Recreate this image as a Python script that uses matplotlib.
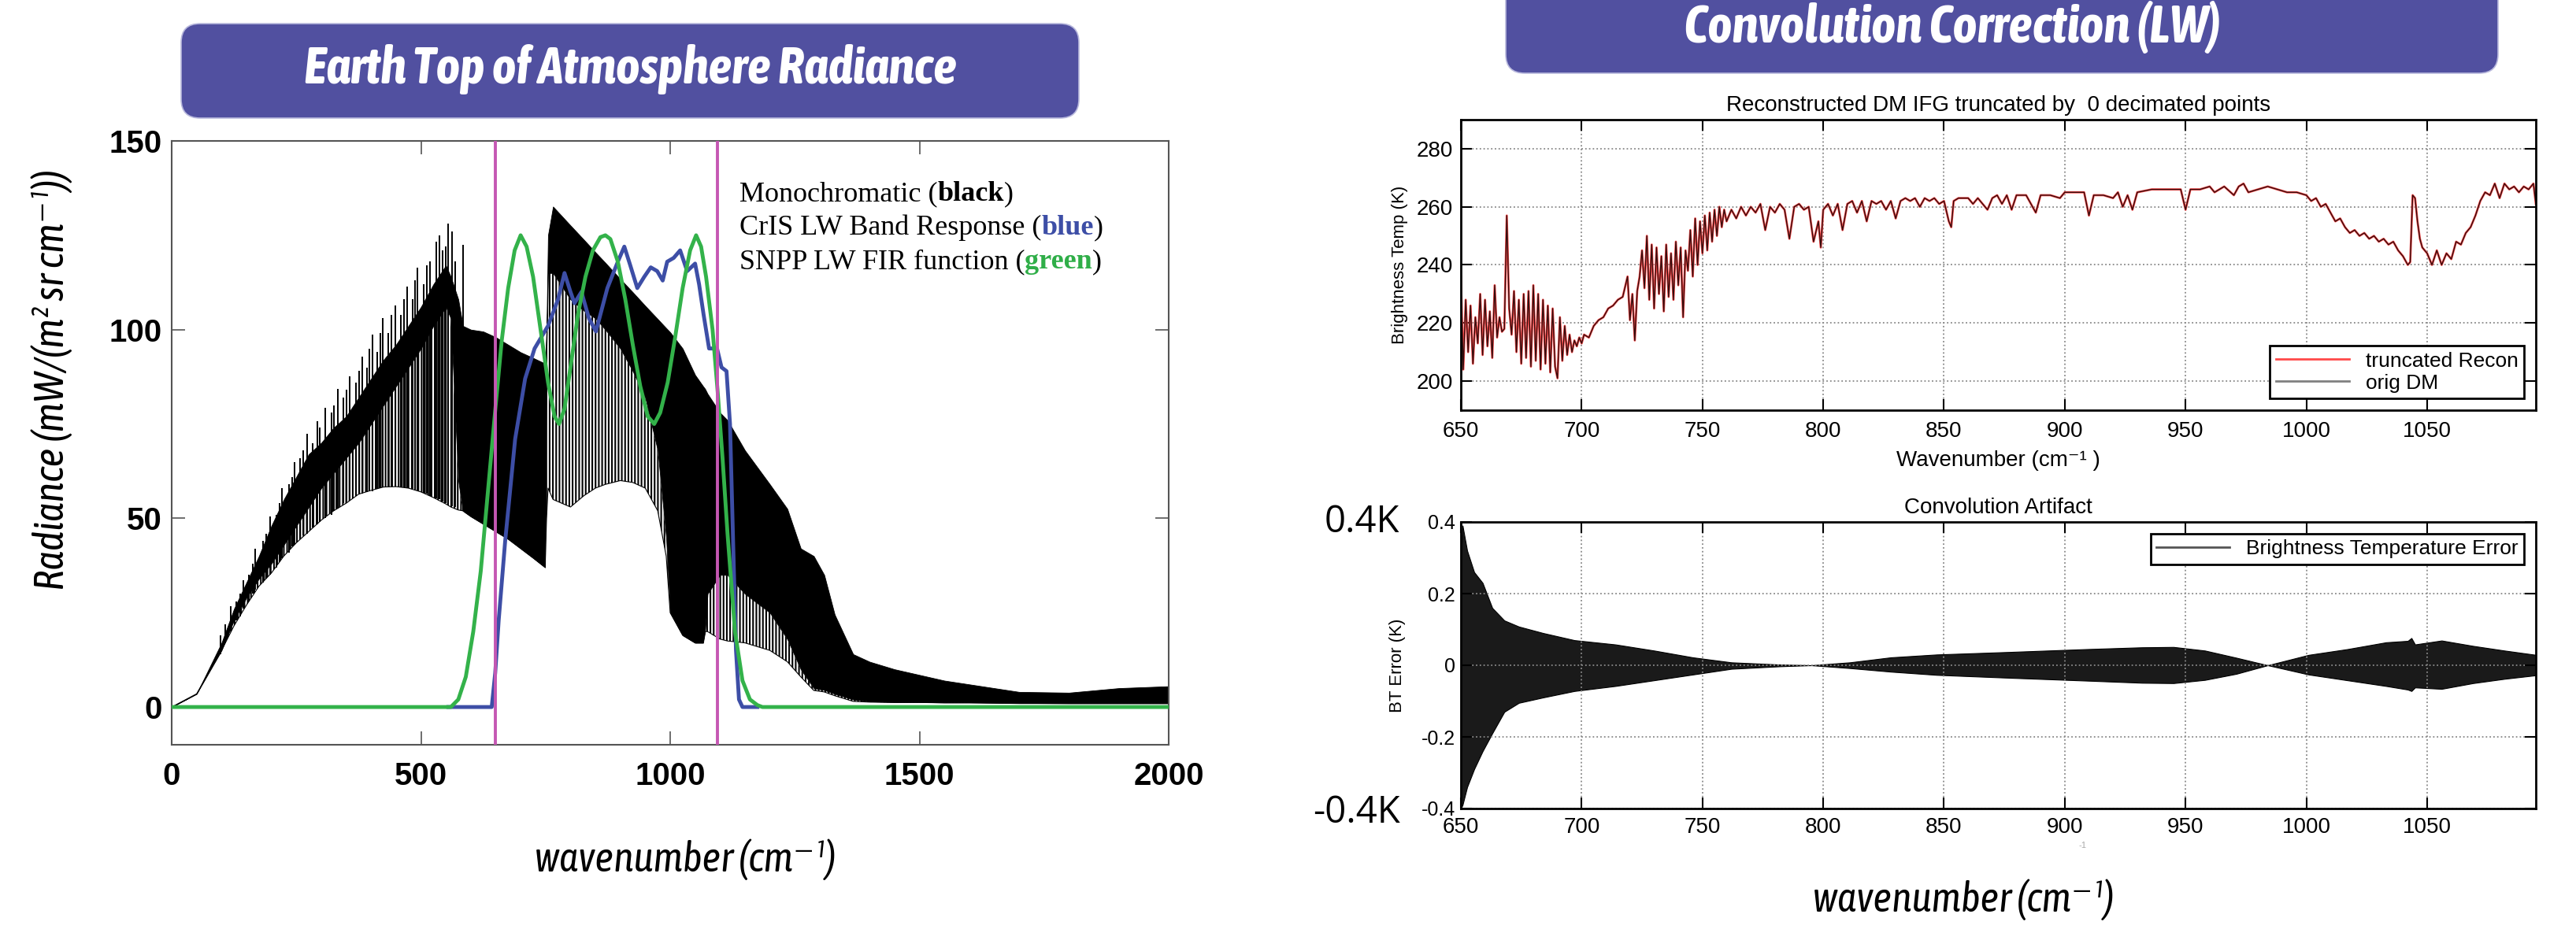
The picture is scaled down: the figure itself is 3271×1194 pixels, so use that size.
import matplotlib
matplotlib.use('Agg')
import matplotlib.pyplot as plt
from matplotlib.patches import FancyBboxPatch

plt.rcParams['font.family'] = ['Liberation Sans', 'DejaVu Sans']
plt.rcParams['hatch.color'] = 'black'
plt.rcParams['hatch.linewidth'] = 1.5

# ---- left panel: monochromatic TOA radiance (envelopes)
mono_wn = [0, 50, 100, 125, 150, 175, 200, 225, 250, 275,
           300, 325, 350, 375, 400, 425, 450, 475, 500, 525,
           550, 560, 575, 584, 600, 625, 650, 675, 700, 725,
           749, 752, 755, 765, 800, 827, 850, 870, 900, 925,
           950, 975, 992, 1000, 1025, 1050, 1066, 1070, 1075, 1100,
           1115, 1150, 1200, 1235, 1262, 1288, 1309, 1330, 1367, 1400,
           1450, 1500, 1550, 1600, 1700, 1800, 1900, 2000]
mono_top = [0, 3.5, 17, 26, 33, 40, 48, 55, 61, 67,
            70, 74, 77, 82, 87, 92, 96, 101, 106, 112,
            117, 114, 108, 101, 100, 99.5, 98, 96, 94, 92.5,
            91, 100, 125, 132.6, 127.6, 123.8, 120.5, 117.7, 113.4, 109.9,
            106.3, 102.8, 100.4, 99.3, 95, 88, 85, 84.3, 83, 78,
            76, 68, 59, 52.5, 42, 40, 35, 24.5, 14, 12,
            10, 8.5, 7, 6, 4, 3.8, 5, 5.5]
mono_mid = [0, 3.5, 15, 23, 29, 34, 38, 43, 48, 53,
            58, 62, 66, 70, 75, 80, 85, 90, 95, 101,
            106, 103, 60, 52, 50.5, 48.5, 46.5, 44.5, 42, 39.5,
            37, 95, 115, 115, 108, 105, 103, 100, 95, 89,
            82, 68, 45, 25, 19, 17, 17, 20, 30, 35,
            35, 30, 25, 18, 10, 5, 4.5, 3.5, 2, 1.5,
            1.3, 1.3, 1.2, 1.2, 1, 1, 1, 1]
mono_lo = [0, 3.5, 15, 21.5, 27, 32, 35.5, 40, 43.5, 46.5,
           49.5, 52, 54, 56.4, 57.4, 58.3, 58.4, 58, 57, 55.5,
           53.8, 53, 52.2, 52, 50.5, 48.5, 46.5, 44.5, 42, 39.5,
           37, 50, 58, 55, 53, 56, 58, 59, 60, 59.5,
           58, 52, 40, 25, 19, 17, 17, 20, 20, 18,
           17.5, 17, 15, 12, 8, 4.4, 4, 3, 1.5, 1.3,
           1.2, 1.2, 1.1, 1.1, 1, 0.9, 0.9, 0.9]

# individual tall lines poking out of the dense band
spike_wn = [98, 118.5, 130, 143, 155, 168, 183, 197, 210, 221.5,
            235, 246, 258, 271, 282, 291.5, 308, 320, 333, 345,
            357.5, 370, 382, 392, 403, 413, 423, 435, 448, 460,
            473, 483, 493, 505, 518, 530.5, 543, 555, 568, 584,
            108, 137, 162, 190, 216, 241, 264, 297, 326, 351,
            376, 397, 418, 441, 466, 488, 512, 537, 549, 562]
spike_top = [19, 26.7, 28, 33.5, 35, 42, 44, 50.4, 51, 58,
             59, 64.8, 66, 72.5, 70, 75.8, 79.2, 78, 84.3, 82,
             87.7, 86, 92.8, 90, 98.7, 94, 103, 99, 106.4, 104,
             111.4, 108, 116.5, 112, 118, 123.3, 121, 128, 118, 122.5,
             22, 30, 38, 46, 54, 61, 68, 74, 80, 84,
             89, 95, 99, 104, 108, 113, 117, 125, 122, 126]
spike_bot = [14, 20, 23, 26, 28, 31, 33, 35, 37, 39.5,
             41, 43, 44.5, 46, 47.5, 48.5, 50, 51, 52.5, 54,
             55, 56, 56.5, 57, 57.2, 57.8, 58.2, 58.3, 58.4, 58.3,
             58, 57.8, 57.3, 56.8, 56, 55.3, 54.5, 53.5, 53, 52,
             17, 24, 30, 34, 38.5, 42.5, 45.5, 49, 52, 54.5,
             56.4, 57.2, 58, 58.4, 58.2, 57.5, 56.5, 55, 54, 53.2]

blue_wn = [555, 642, 649, 656, 669, 689, 709, 728, 755, 775,
           788, 800, 808, 822, 837, 851, 874, 895, 908, 920,
           934, 948, 961, 974, 985, 994, 1007, 1020, 1034, 1050,
           1058, 1067, 1078, 1094, 1103, 1113, 1120, 1126, 1132, 1138,
           1145, 1175]
blue_val = [0, 0, 9, 23, 44, 71, 87, 95, 101, 108,
            115, 110, 107, 110, 103, 99.5, 111, 118, 122, 117,
            111, 114, 116.5, 115.5, 113, 118, 119, 121, 115.5, 117.5,
            112, 104, 95, 95, 90, 89, 75, 45, 15, 2,
            0, 0]

green_wn = [0, 560, 575, 590, 605, 620, 635, 650, 662, 675,
            688, 700, 712, 725, 740, 755, 768, 777, 788, 800,
            815, 830, 845, 860, 870, 880, 895, 910, 925, 940,
            955, 968, 980, 995, 1010, 1025, 1040, 1052, 1062, 1072,
            1085, 1095, 1105, 1115, 1130, 1145, 1160, 1175, 1185, 2000]
green_val = [0, 0, 2, 8, 20, 36, 58, 80, 97, 111,
             121, 125, 122, 114, 100, 86, 77, 75, 79, 90,
             104, 114, 121, 124.5, 125, 124, 118, 108, 96, 85,
             77, 75, 78, 86, 98, 111, 121, 125, 122, 114,
             100, 84, 66, 46, 20, 7, 2, 0.5, 0, 0]

band_edges = [650, 1095]

# ---- right top: brightness temperature spectrum
bt_wn = ([650, 651, 652, 653, 654, 655, 656, 657, 658, 659]
         + [660, 661, 662, 663, 664, 665, 666, 667, 668, 669]
         + [670, 671, 672, 673, 674, 675, 676, 677, 678, 679]
         + [680, 681, 682, 683, 684, 685, 686, 687, 688, 689]
         + [690, 691, 692, 693, 694, 695, 696, 697, 698, 699]
         + [700, 701, 703, 705, 707, 709, 711, 713, 715, 717]
         + [719, 720, 721, 722, 723, 724, 725, 726, 727, 728]
         + [729, 730, 731, 732, 733, 734, 735, 736, 737, 738]
         + [739, 740, 741, 742, 743, 744, 745, 746, 747, 748]
         + [749, 750, 751, 752, 753, 754, 755, 756, 757, 758]
         + [759, 760, 762, 764, 766, 768, 770, 772, 774, 776]
         + [778, 780, 782, 784, 786, 788, 790, 792, 794, 796]
         + [798, 799, 800, 802, 804, 806, 808, 810, 812, 814]
         + [816, 818, 820, 822, 824, 826, 828, 830, 832, 834]
         + [836, 838, 840, 842, 844, 846, 848, 850, 852, 853]
         + [854, 856, 860, 862, 864, 868, 870, 872, 874, 876]
         + [878, 880, 884, 886, 888, 890, 894, 898, 900, 904]
         + [908, 910, 912, 916, 920, 922, 924, 926, 928, 930]
         + [936, 940, 944, 948, 950, 952, 956, 960, 962, 966]
         + [970, 972, 974, 976, 980, 984, 988, 992, 996, 1000]
         + [1002, 1004, 1006, 1008, 1010, 1012, 1014, 1016, 1018, 1020]
         + [1022, 1024, 1026, 1028, 1030, 1032, 1034, 1036, 1038, 1040]
         + [1042, 1043, 1044, 1045, 1046, 1047, 1048, 1050, 1052, 1054]
         + [1056, 1058, 1060, 1062, 1064, 1066, 1068, 1070, 1072, 1074]
         + [1076, 1078, 1080, 1082, 1084, 1086, 1088, 1090, 1092, 1094]
         + [1095])
bt_temp = ([236, 204, 228, 210, 226, 206, 222, 213, 230, 209]
           + [228, 212, 224, 208, 233, 215, 222, 217, 218, 257]
           + [225, 216, 231, 210, 228, 206, 230, 208, 231, 205]
           + [233, 207, 230, 204, 228, 206, 226, 203, 225, 205]
           + [201, 222, 207, 219, 209, 216, 210, 214, 212, 215]
           + [213, 216, 215, 219, 221, 222, 225, 226, 228, 229]
           + [236, 221, 230, 214, 231, 236, 245, 232, 250, 228]
           + [247, 225, 246, 230, 243, 224, 247, 229, 244, 228]
           + [248, 233, 246, 222, 245, 238, 252, 236, 256, 240]
           + [255, 244, 257, 245, 258, 248, 259, 250, 260, 253]
           + [259, 255, 259, 256, 260, 257, 260, 258, 261, 252]
           + [260, 258, 261, 259, 249, 260, 261, 259, 260, 248]
           + [255, 246, 259, 261, 257, 261, 252, 261, 262, 258]
           + [262, 255, 262, 261, 262, 259, 262, 256, 262, 263]
           + [262, 263, 260, 263, 262, 263, 261, 262, 255, 253]
           + [262, 263, 263, 261, 263, 259, 263, 264, 261, 264]
           + [259, 264, 264, 261, 258, 264, 264, 263, 265, 265]
           + [265, 257, 264, 264, 263, 265, 260, 264, 259, 265]
           + [266, 266, 266, 266, 259, 266, 266, 267, 265, 267]
           + [264, 267, 268, 265, 266, 267, 266, 265, 265, 264]
           + [262, 263, 260, 261, 258, 255, 256, 253, 251, 252]
           + [250, 251, 249, 250, 248, 249, 247, 248, 245, 243]
           + [240, 241, 264, 263, 255, 249, 246, 244, 240, 245]
           + [240, 244, 242, 248, 247, 251, 253, 257, 262, 265]
           + [264, 268, 263, 268, 266, 267, 265, 267, 266, 268]
           + [261])

# ---- right bottom: convolution artifact envelope
err_wn = [650, 650.7, 652.6, 655.5, 659, 663, 668, 674, 684, 697,
          714, 730, 746, 762, 782, 795, 811, 828, 847, 877,
          909, 932, 945, 958, 971, 984, 1001, 1017, 1033, 1042,
          1043.5, 1045, 1056, 1069, 1082, 1095]
err_hi = [0.30, 0.39, 0.32, 0.26, 0.23, 0.16, 0.125, 0.108, 0.09, 0.07,
          0.058, 0.041, 0.022, 0.008, 0.002, 0.0, 0.008, 0.022, 0.030, 0.037,
          0.045, 0.050, 0.051, 0.041, 0.021, 0.0, 0.029, 0.045, 0.064, 0.068,
          0.076, 0.058, 0.069, 0.054, 0.041, 0.029]
err_lo = [-0.40, -0.39, -0.34, -0.29, -0.24, -0.19, -0.13, -0.105, -0.09, -0.072,
          -0.058, -0.042, -0.026, -0.010, -0.003, 0.0, -0.008, -0.018, -0.027, -0.035,
          -0.043, -0.049, -0.050, -0.041, -0.024, 0.0, -0.026, -0.042, -0.058, -0.068,
          -0.072, -0.062, -0.066, -0.050, -0.038, -0.028]

W, H = 3271, 1194
fig = plt.figure(figsize=(W / 100, H / 100), dpi=100)


def px_axes(x0, y0, x1, y1):
    return fig.add_axes([x0 / W, 1 - y1 / H, (x1 - x0) / W, (y1 - y0) / H])


COND = ['Asap Condensed', 'DejaVu Sans']

# left axes
axL = px_axes(218, 179, 1484, 946)
axL.fill_between(mono_wn, mono_lo, mono_mid, facecolor='none', edgecolor='black',
                 hatch='||||', linewidth=0, zorder=1)
axL.fill_between(mono_wn, mono_mid, mono_top, color='black', linewidth=0.6, zorder=2)
axL.vlines(spike_wn, spike_bot, spike_top, color='black', lw=1.4, zorder=2)
axL.plot(mono_wn, mono_lo, color='black', lw=0.8, zorder=2)
axL.plot(blue_wn, blue_val, color='#3d4ea6', lw=3.5, zorder=3)
axL.plot(green_wn, green_val, color='#33b24a', lw=3.5, zorder=4)
for b in band_edges:
    axL.axvline(b, color='#c557b3', lw=2.8, zorder=5)
axL.set_xlim(0, 2000)
axL.set_ylim(-10, 150)
axL.set_xticks([0, 500, 1000, 1500, 2000])
axL.set_yticks([0, 50, 100, 150])
axL.tick_params(direction='in', length=12, width=1.2, top=True, right=True,
                labelsize=29, color='#555555')
axL.tick_params(axis='x', pad=15)
axL.tick_params(axis='y', pad=9)
for lab in axL.get_xticklabels() + axL.get_yticklabels():
    lab.set_fontweight('bold')
for s in axL.spines.values():
    s.set_color('#555555')
    s.set_linewidth(1.5)
axL.patch.set_visible(False)

# right top axes
axT = px_axes(1855, 152, 3220, 521)
axT.plot(bt_wn, bt_temp, color='#ff4a4a', lw=2.0, label='truncated Recon')
axT.plot(bt_wn, bt_temp, color='black', lw=1.0, alpha=0.8)
axT.plot([], [], color='#808080', lw=2.0, label='orig DM')
axT.set_xlim(650, 1095)
axT.set_ylim(190, 290)
axT.set_xticks([650, 700, 750, 800, 850, 900, 950, 1000, 1050])
axT.set_yticks([200, 220, 240, 260, 280])
axT.grid(True, linestyle=':', color='#888888', lw=1.3)
axT.set_title('Reconstructed DM IFG truncated by  0 decimated points', fontsize=20, pad=8)
axT.set_ylabel('Brightness Temp (K)', fontsize=16, labelpad=8)
axT.set_xlabel('Wavenumber (cm⁻¹ )', fontsize=20, labelpad=8)
axT.tick_params(direction='in', length=10, width=1.5, top=True, right=True, labelsize=20)
axT.tick_params(axis='x', pad=10)
axT.tick_params(axis='y', pad=7)
leg = axT.legend(loc='lower right', fontsize=19, handlelength=3.5, labelspacing=0.15,
                 borderpad=0.3, borderaxespad=0.55, fancybox=False, framealpha=1)
leg.get_frame().set_edgecolor('black')
leg.get_frame().set_linewidth(2)
for s in axT.spines.values():
    s.set_linewidth(2)

# right bottom axes
axB = px_axes(1855, 663, 3220, 1027)
axB.fill_between(err_wn, err_lo, err_hi, color='#1a1a1a', linewidth=0.8,
                 edgecolor='black')
axB.plot([], [], color='#555555', lw=2.0, label='Brightness Temperature Error')
axB.set_xlim(650, 1095)
axB.set_ylim(-0.4, 0.4)
axB.set_xticks([650, 700, 750, 800, 850, 900, 950, 1000, 1050])
axB.set_yticks([-0.4, -0.2, 0, 0.2, 0.4])
axB.set_yticklabels(['-0.4', '-0.2', '0', '0.2', '0.4'])
axB.grid(True, linestyle=':', color='#888888', lw=1.3)
axB.set_title('Convolution Artifact', fontsize=20, pad=8)
axB.set_ylabel('BT Error (K)', fontsize=16, labelpad=14)
axB.tick_params(direction='in', length=10, width=1.5, top=True, right=True, labelsize=20)
axB.tick_params(axis='x', pad=8)
axB.tick_params(axis='y', pad=5, labelsize=18)
leg2 = axB.legend(loc='upper right', fontsize=19, handlelength=3.5, borderpad=0.3,
                  borderaxespad=0.55, fancybox=False, framealpha=1)
leg2.get_frame().set_edgecolor('black')
leg2.get_frame().set_linewidth(2)
for s in axB.spines.values():
    s.set_linewidth(2)

# overlay in pixel coordinates for banners and loose text
bg = fig.add_axes([0, 0, 1, 1], zorder=10)
bg.set_xlim(0, W)
bg.set_ylim(H, 0)
bg.axis('off')
renderer = fig.canvas.get_renderer()


def fitted_text(x, y, s, width, rotation=0, **kw):
    # size the text so that its length matches the reference
    t = bg.text(x, y, s, fontsize=30, ha='center', va='center', **kw)
    w = t.get_window_extent(renderer=renderer).width
    t.set_fontsize(30 * width / w)
    t.set_rotation(rotation)
    return t


banner = '#5150a0'
bg.add_patch(FancyBboxPatch((230, 30), 1140, 120, boxstyle='round,pad=0,rounding_size=24',
                            facecolor=banner, edgecolor='#b9b9dd', lw=1.2))
bg.add_patch(FancyBboxPatch((1912, -40), 1260, 133, boxstyle='round,pad=0,rounding_size=24',
                            facecolor=banner, edgecolor='#b9b9dd', lw=1.2))
fitted_text(800, 88, 'Earth Top of Atmosphere Radiance', 830, color='white',
            fontweight='bold', fontstyle='italic', family=COND)
fitted_text(2479, 34, 'Convolution Correction (LW)', 682, color='white',
            fontweight='bold', fontstyle='italic', family=COND)

fitted_text(66, 482, 'Radiance (mW/(m² sr cm⁻¹))', 535, rotation=90,
            fontstyle='italic', family=COND)
fitted_text(870, 1092, 'wavenumber (cm⁻¹)', 382, fontstyle='italic', family=COND)
fitted_text(2493, 1143, 'wavenumber (cm⁻¹)', 382, fontstyle='italic', family=COND)
bg.text(1777, 663, '0.4K', fontsize=34, family=['Open Sans', 'DejaVu Sans'],
        ha='right', va='center')
bg.text(1778, 1032, '-0.4K', fontsize=34, family=['Open Sans', 'DejaVu Sans'],
        ha='right', va='center')
bg.text(2645, 1074, '-1', fontsize=8, color='#aaaaaa', ha='center', va='center')

# coloured legend of the left panel, written piece by piece
legend_rows = [
    [('Monochromatic (', 'black', 'normal'), ('black', 'black', 'bold'), (')', 'black', 'normal')],
    [('CrIS LW Band Response (', 'black', 'normal'), ('blue', '#3d4ea6', 'bold'), (')', 'black', 'normal')],
    [('SNPP LW FIR function (', 'black', 'normal'), ('green', '#2fae48', 'bold'), (')', 'black', 'normal')],
]
for i, parts in enumerate(legend_rows):
    x = 939
    y = 255 + 43 * i
    for txt, col, wt in parts:
        t = bg.text(x, y, txt, color=col, fontweight=wt, fontsize=26,
                    family=['Liberation Serif', 'DejaVu Serif'], ha='left', va='baseline')
        x += t.get_window_extent(renderer=renderer).width

fig.savefig('out.png', dpi=100, facecolor='white')
